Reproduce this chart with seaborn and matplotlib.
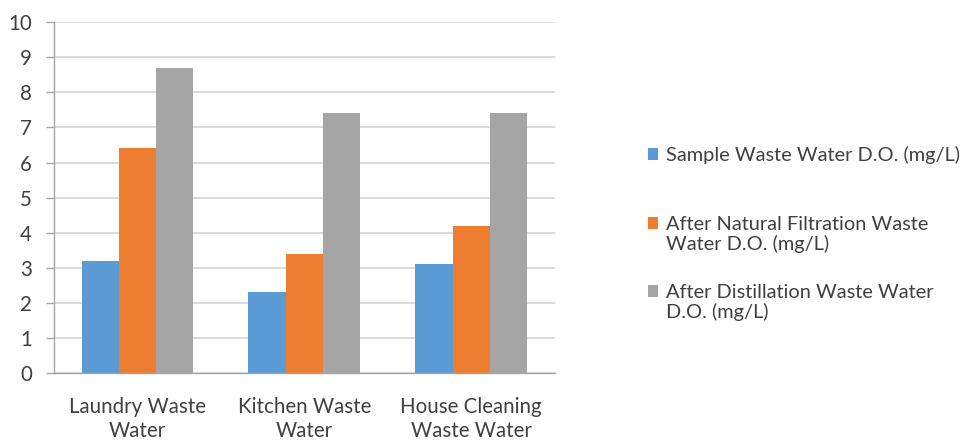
import matplotlib
matplotlib.use("Agg")
import matplotlib.pyplot as plt
import seaborn as sns
import pandas as pd
from matplotlib.patches import Patch

categories = ["Laundry Waste\nWater", "Kitchen Waste\nWater", "House Cleaning\nWaste Water"]
series_names = ["Sample Waste Water D.O. (mg/L)",
                "After Natural Filtration Waste\nWater D.O. (mg/L)",
                "After Distillation Waste Water\nD.O. (mg/L)"]
sample_do = [3.2, 2.3, 3.1]
natural_filtration_do = [6.4, 3.4, 4.2]
distillation_do = [8.7, 7.4, 7.4]
colors = ["#5B9BD5", "#ED7D31", "#A5A5A5"]
y_ticks = list(range(0, 11))

rows = []
for name, vals in zip(series_names, [sample_do, natural_filtration_do, distillation_do]):
    for c, v in zip(categories, vals):
        rows.append({"category": c, "series": name, "value": v})
df = pd.DataFrame(rows)

sns.set_theme(style="white")
plt.rcParams["font.family"] = ["Lato", "DejaVu Sans"]

FS = 14.8
LFS = 14.4
TXT = "#404040"
fig = plt.figure(figsize=(9.73, 4.44), dpi=100)
ax = fig.add_axes([0.0555, 0.160, 0.5145, 0.790])
sns.barplot(data=df, x="category", y="value", hue="series", palette=colors,
            width=0.67, saturation=1, ax=ax, legend=False, edgecolor="none", linewidth=0)

ax.set_ylim(0, 10)
ax.set_xlim(-0.5, 2.5)
ax.set_yticks(y_ticks)
ax.set_yticklabels([str(t) for t in y_ticks], fontsize=FS, color=TXT)
for lbl in ax.get_xticklabels():
    lbl.set_linespacing(1.3)
    lbl.set_fontsize(FS)
    lbl.set_color(TXT)
ax.yaxis.grid(True, color="#D9D9D9", linewidth=1.3)
ax.set_axisbelow(True)
ax.set_xlabel("")
ax.set_ylabel("")
ax.tick_params(axis="x", length=0, pad=17)
ax.set_xticks([-0.5, 0.5, 1.5, 2.5], minor=True)
ax.tick_params(axis="x", which="minor", length=7, color="#A6A6A6", width=1, direction="out")
ax.tick_params(axis="y", length=6, color="#A6A6A6", width=1, direction="out", left=True, pad=10)
for s in ["top", "right"]:
    ax.spines[s].set_visible(False)
for s in ["left", "bottom"]:
    ax.spines[s].set_color("#A6A6A6")
    ax.spines[s].set_linewidth(1)

# legend: one entry per legend so each can sit where the reference has it
first_line_y = [153, 223, 291]  # pixel rows of first line centres
H = 444.0
for color, name, ypx in zip(colors, series_names, first_line_y):
    n_lines = name.count("\n") + 1
    leg = fig.legend([Patch(facecolor=color, edgecolor="none")], [name],
                     loc="upper left", bbox_to_anchor=(648 / 973, 1 - (ypx - 7) / H),
                     frameon=False, fontsize=LFS, handlelength=0.5, handleheight=0.5,
                     handletextpad=0.4, borderpad=0, borderaxespad=0, labelcolor=TXT)
    for t in leg.get_texts():
        t.set_linespacing(1.15)
    if n_lines > 1:
        shift = 0.5 * (n_lines - 1) * 1.15 * LFS
        for h in leg.legend_handles:
            h.set_y(h.get_y() + shift)

fig.savefig("out.png", dpi=100)
